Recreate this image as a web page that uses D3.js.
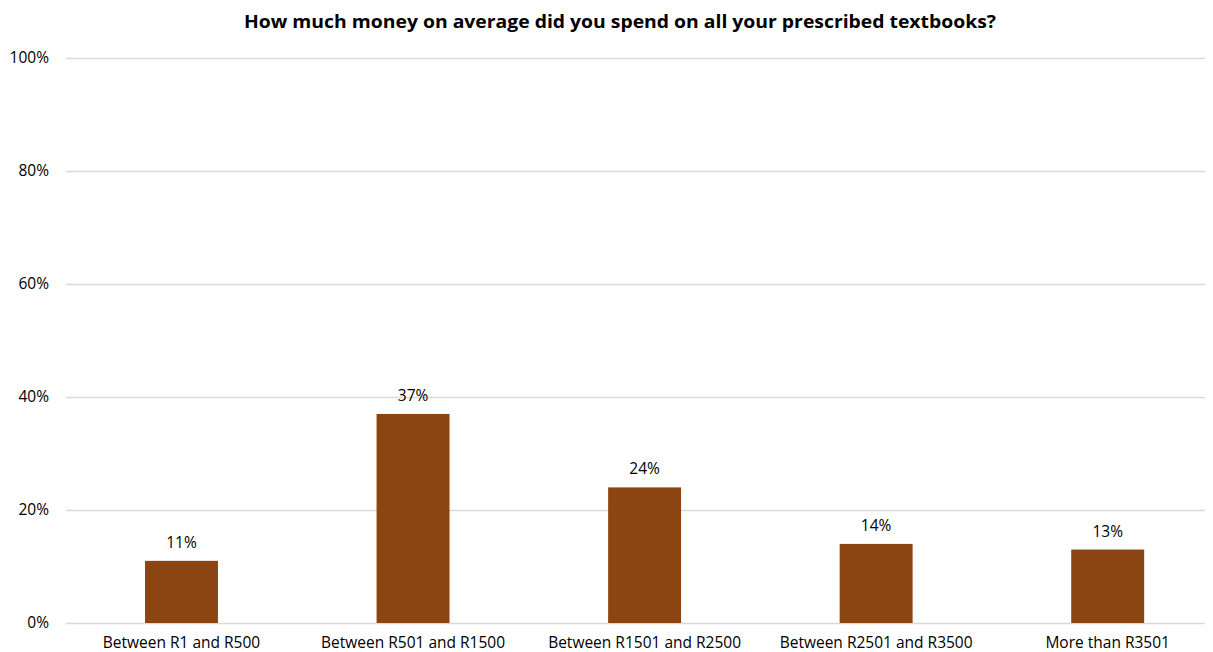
<!DOCTYPE html>
<html><head><meta charset="utf-8">
<script src="https://cdn.jsdelivr.net/npm/d3@7"></script>
<style>body{margin:0;background:#fff;} svg{display:block;}</style>
</head><body>
<script>
const title = "How much money on average did you spend on all your prescribed textbooks?";
const categories = ["Between R1 and R500","Between R501 and R1500","Between R1501 and R2500","Between R2501 and R3500","More than R3501"];
const values = [11, 37, 24, 14, 13];
const yTicks = [0, 20, 40, 60, 80, 100];

const W = 1213, H = 652;
const m = {left: 66, right: 8, top: 58, bottom: 29};
const svg = d3.select("body").append("svg").attr("width", W).attr("height", H);
const font = "'Open Sans', 'Noto Sans', sans-serif";

const x = d3.scaleBand().domain(categories).range([m.left, W - m.right])
  .paddingInner(0.685).paddingOuter(0.302).align(0.565);
const y = d3.scaleLinear().domain([0, 100]).range([H - m.bottom, m.top]);

svg.append("text").attr("x", 620).attr("y", 28).attr("text-anchor", "middle")
  .attr("font-family", font).attr("font-weight", "bold").attr("font-size", 18)
  .attr("textLength", 752).attr("lengthAdjust", "spacingAndGlyphs")
  .attr("fill", "#000").text(title);

const yAxis = svg.append("g").attr("transform", `translate(${m.left},0)`)
  .call(d3.axisLeft(y).tickValues(yTicks).tickSize(-(W - m.right - m.left)).tickFormat(d => d + "%"));
yAxis.select(".domain").remove();
yAxis.selectAll(".tick line").attr("stroke", "#d9d9d9").attr("stroke-width", 1.5);
yAxis.selectAll(".tick text").attr("x", -17).attr("font-family", font).attr("font-size", 15.5).attr("fill", "#000");

svg.selectAll("rect.bar").data(values).enter().append("rect").attr("class", "bar")
  .attr("x", (d, i) => x(categories[i])).attr("width", x.bandwidth())
  .attr("y", d => y(d)).attr("height", d => y(0) - y(d)).attr("fill", "#8B4513");

svg.selectAll("text.val").data(values).enter().append("text").attr("class", "val")
  .attr("x", (d, i) => x(categories[i]) + x.bandwidth() / 2).attr("y", d => y(d) - 13)
  .attr("text-anchor", "middle").attr("font-family", font).attr("font-size", 15.5).attr("fill", "#000")
  .text(d => d + "%");

const xAxis = svg.append("g").attr("transform", `translate(0,${y(0)})`)
  .call(d3.axisBottom(x).tickSize(0).tickPadding(14));
xAxis.select(".domain").remove();
xAxis.selectAll(".tick text").attr("font-family", font).attr("font-size", 15.5).attr("fill", "#000");
</script>
</body></html>
